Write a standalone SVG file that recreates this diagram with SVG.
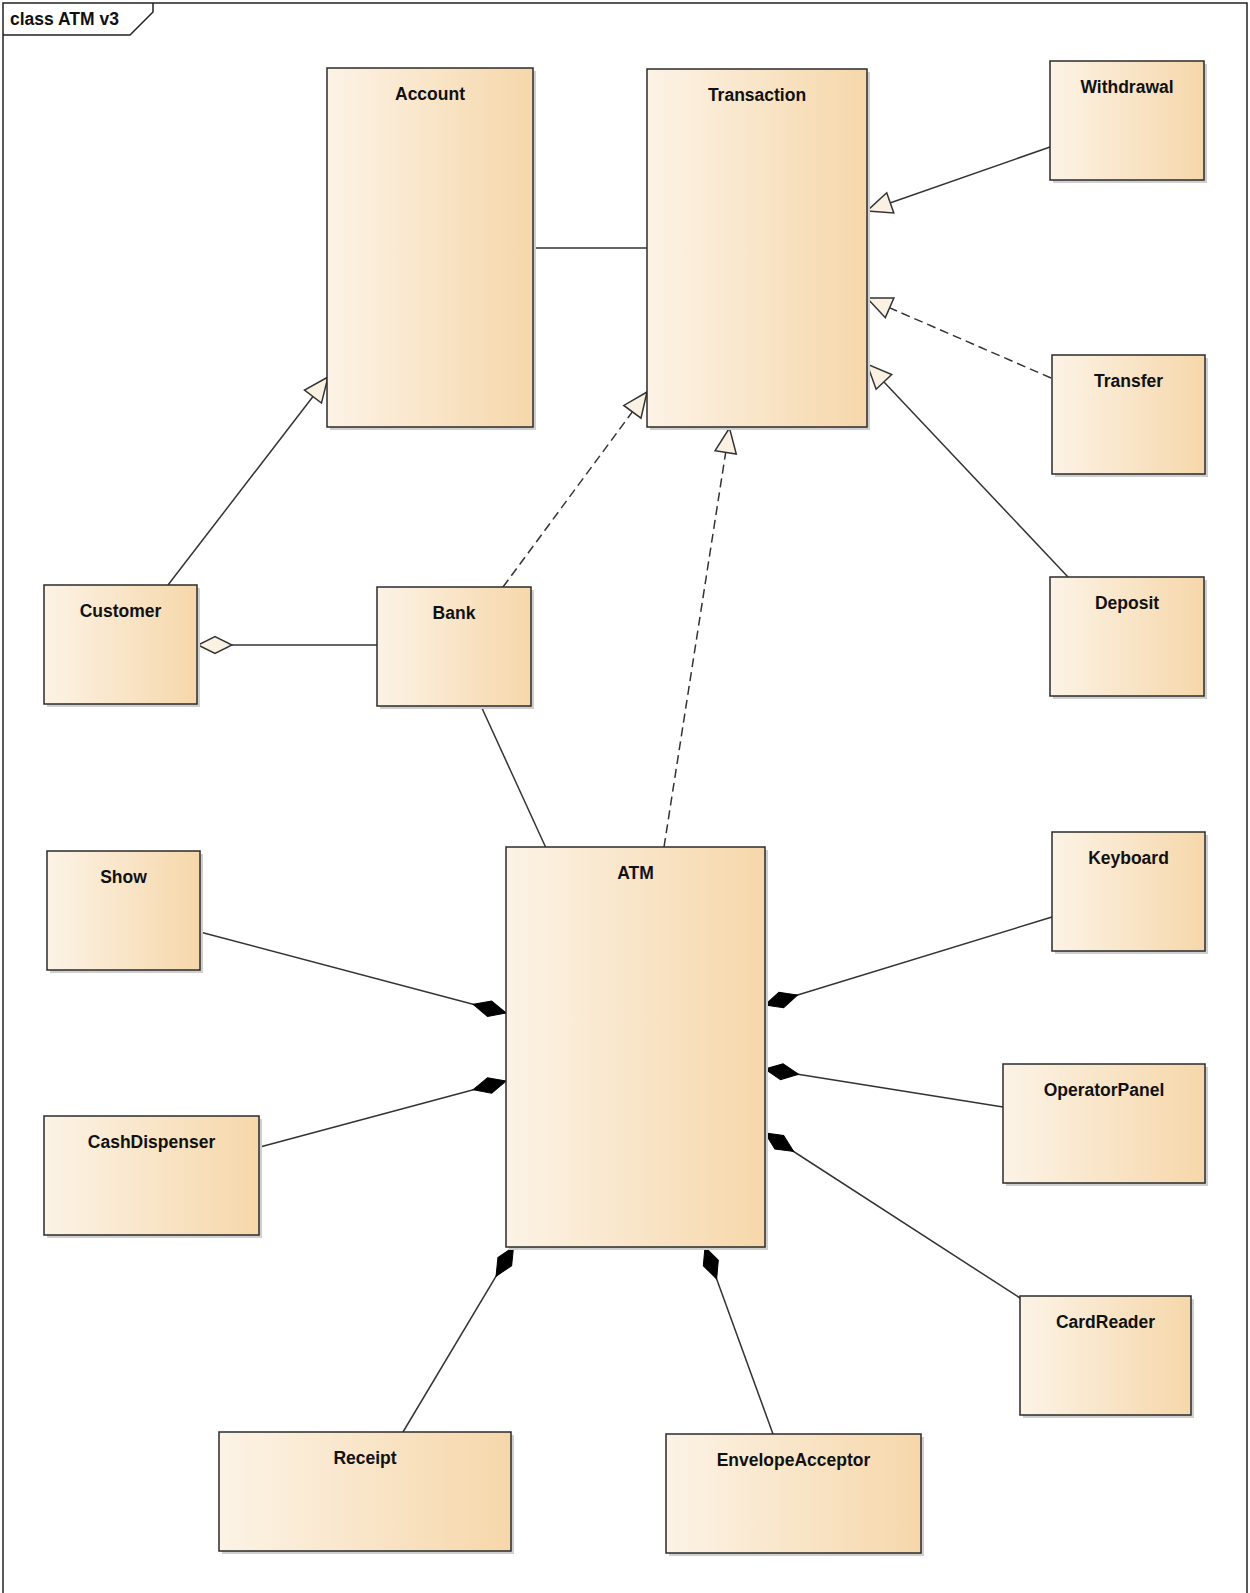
<svg xmlns="http://www.w3.org/2000/svg" width="1250" height="1593" viewBox="0 0 1250 1593">
<defs>
<linearGradient id="g" x1="0" y1="0" x2="1" y2="0">
<stop offset="0" stop-color="#FCF3E6"/>
<stop offset="1" stop-color="#F6D7AA"/>
</linearGradient>
<marker id="tri" markerUnits="userSpaceOnUse" markerWidth="30" markerHeight="30" viewBox="-26 -13 28 26" refX="0" refY="0" orient="auto">
<path d="M0,0 L-23,-10 L-23,10 Z" fill="#FBF1E3" stroke="#333" stroke-width="1.4" stroke-linejoin="miter"/>
</marker>
<marker id="dia" markerUnits="userSpaceOnUse" markerWidth="40" markerHeight="24" viewBox="-37 -12 40 24" refX="0" refY="0" orient="auto">
<path d="M0,0 L-17,-8.5 L-34,0 L-17,8.5 Z" fill="#FBF1E3" stroke="#333" stroke-width="1.4"/>
</marker>
<marker id="comp" markerUnits="userSpaceOnUse" markerWidth="40" markerHeight="24" viewBox="-37 -12 40 24" refX="0" refY="0" orient="auto">
<path d="M0,0 L-17,-8 L-34,0 L-17,8 Z" fill="#000" stroke="#000" stroke-width="1"/>
</marker>
</defs>
<style>
.box{fill:url(#g);stroke:#2b2b2b;stroke-width:1.5}
.sh{fill:#cfcfcf}
.lbl{font-family:"Liberation Sans",Arial,sans-serif;font-weight:bold;font-size:17.5px;fill:#111;text-anchor:middle}
.ln{fill:none;stroke:#333;stroke-width:1.5}
.dash{stroke-dasharray:9,5}
.frame{fill:none;stroke:#222;stroke-width:1.5}
</style>
<rect x="0" y="0" width="1250" height="1593" fill="#fff"/>
<g id="frame">
<path class="frame" d="M3,1593 L3,3 L1247,3 L1247,1593"/>
<path class="frame" d="M3,35 L130,35 L153,12 L153,3"/>
<text x="10" y="25" style="font-family:'Liberation Sans',Arial,sans-serif;font-weight:bold;font-size:17.5px;fill:#111">class ATM v3</text>
</g>
<g id="connectors">
<line class="ln" x1="533" y1="248" x2="647" y2="248"/>
<line class="ln" x1="1050" y1="147" x2="867" y2="211" marker-end="url(#tri)"/>
<line class="ln dash" x1="1051" y1="378" x2="867" y2="298" marker-end="url(#tri)"/>
<line class="ln" x1="1068" y1="577" x2="867" y2="364" marker-end="url(#tri)"/>
<line class="ln" x1="168" y1="585" x2="328" y2="377" marker-end="url(#tri)"/>
<line class="ln dash" x1="503" y1="587" x2="647" y2="392" marker-end="url(#tri)"/>
<line class="ln dash" x1="664" y1="847" x2="729.5" y2="428" marker-end="url(#tri)"/>
<line class="ln" x1="481" y1="706" x2="546" y2="848"/>
<line class="ln" x1="377" y1="645" x2="198" y2="645" marker-end="url(#dia)"/>
<line class="ln" x1="200" y1="932" x2="506" y2="1013" marker-end="url(#comp)"/>
<line class="ln" x1="260" y1="1147" x2="506" y2="1081" marker-end="url(#comp)"/>
<line class="ln" x1="1052" y1="917" x2="765" y2="1005" marker-end="url(#comp)"/>
<line class="ln" x1="1003" y1="1107" x2="765" y2="1069" marker-end="url(#comp)"/>
<line class="ln" x1="1020" y1="1298" x2="765" y2="1133" marker-end="url(#comp)"/>
<line class="ln" x1="403" y1="1432" x2="513.5" y2="1247" marker-end="url(#comp)"/>
<line class="ln" x1="773" y1="1434" x2="705" y2="1247" marker-end="url(#comp)"/>
</g>
<g id="Account"><rect class="sh" x="330" y="71" width="206" height="359"/><rect class="box" x="327" y="68" width="206" height="359"/><text class="lbl" x="430" y="100">Account</text></g>
<g id="Transaction"><rect class="sh" x="650" y="72" width="220" height="358"/><rect class="box" x="647" y="69" width="220" height="358"/><text class="lbl" x="757" y="101">Transaction</text></g>
<g id="Withdrawal"><rect class="sh" x="1053" y="64" width="154" height="119"/><rect class="box" x="1050" y="61" width="154" height="119"/><text class="lbl" x="1127" y="93">Withdrawal</text></g>
<g id="Transfer"><rect class="sh" x="1055" y="358" width="153" height="119"/><rect class="box" x="1052" y="355" width="153" height="119"/><text class="lbl" x="1128.5" y="387">Transfer</text></g>
<g id="Deposit"><rect class="sh" x="1053" y="580" width="154" height="119"/><rect class="box" x="1050" y="577" width="154" height="119"/><text class="lbl" x="1127" y="609">Deposit</text></g>
<g id="Customer"><rect class="sh" x="47" y="588" width="153" height="119"/><rect class="box" x="44" y="585" width="153" height="119"/><text class="lbl" x="120.5" y="617">Customer</text></g>
<g id="Bank"><rect class="sh" x="380" y="590" width="154" height="119"/><rect class="box" x="377" y="587" width="154" height="119"/><text class="lbl" x="454" y="619">Bank</text></g>
<g id="ATM"><rect class="sh" x="509" y="850" width="259" height="400"/><rect class="box" x="506" y="847" width="259" height="400"/><text class="lbl" x="635.5" y="879">ATM</text></g>
<g id="Show"><rect class="sh" x="50" y="854" width="153" height="119"/><rect class="box" x="47" y="851" width="153" height="119"/><text class="lbl" x="123.5" y="883">Show</text></g>
<g id="Keyboard"><rect class="sh" x="1055" y="835" width="153" height="119"/><rect class="box" x="1052" y="832" width="153" height="119"/><text class="lbl" x="1128.5" y="864">Keyboard</text></g>
<g id="CashDispenser"><rect class="sh" x="47" y="1119" width="215" height="119"/><rect class="box" x="44" y="1116" width="215" height="119"/><text class="lbl" x="151.5" y="1148">CashDispenser</text></g>
<g id="OperatorPanel"><rect class="sh" x="1006" y="1067" width="202" height="119"/><rect class="box" x="1003" y="1064" width="202" height="119"/><text class="lbl" x="1104" y="1096">OperatorPanel</text></g>
<g id="CardReader"><rect class="sh" x="1023" y="1299" width="171" height="119"/><rect class="box" x="1020" y="1296" width="171" height="119"/><text class="lbl" x="1105.5" y="1328">CardReader</text></g>
<g id="Receipt"><rect class="sh" x="222" y="1435" width="292" height="119"/><rect class="box" x="219" y="1432" width="292" height="119"/><text class="lbl" x="365" y="1464">Receipt</text></g>
<g id="EnvelopeAcceptor"><rect class="sh" x="669" y="1437" width="255" height="119"/><rect class="box" x="666" y="1434" width="255" height="119"/><text class="lbl" x="793.5" y="1466">EnvelopeAcceptor</text></g>
</svg>
